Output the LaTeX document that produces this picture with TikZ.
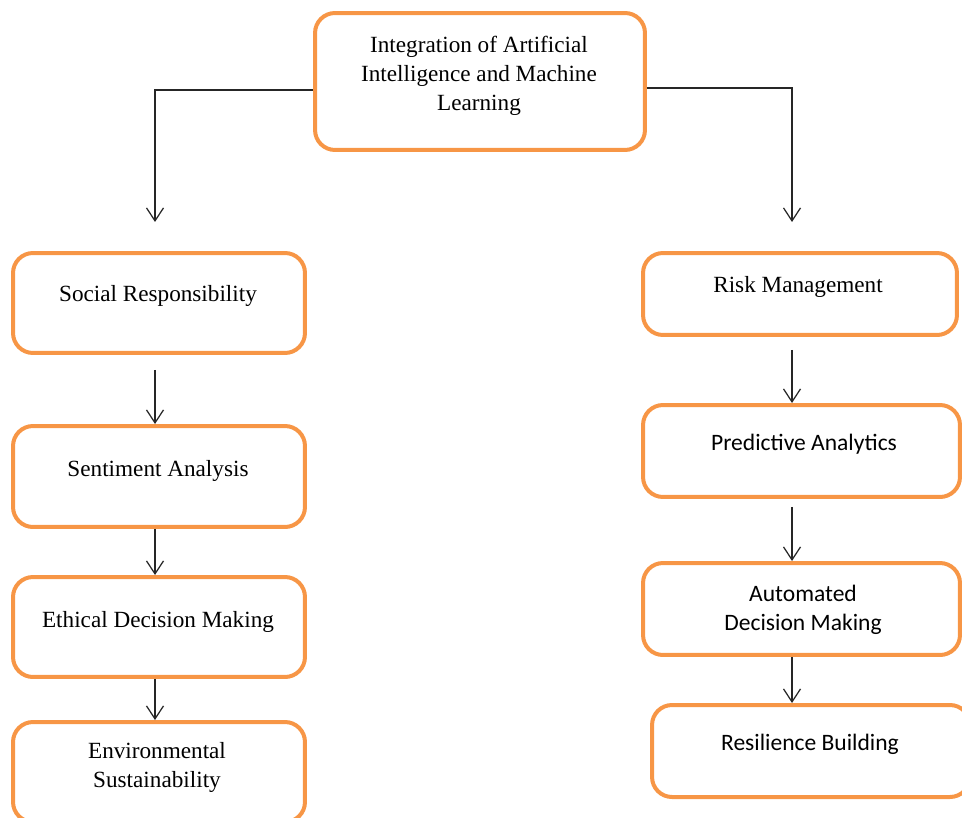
\documentclass[tikz,border=0pt]{standalone}
\usepackage{fontspec}
\setmainfont{Liberation Serif}
\newfontfamily\calibrifont{Carlito}
\usetikzlibrary{arrows.meta,calc}
\definecolor{boxorange}{HTML}{F79646}

\begin{document}
\begin{tikzpicture}[x=0.02cm,y=-0.02cm,
    box/.style={draw=boxorange,line width=0.8mm,rounded corners=4mm,inner sep=0pt},
    lbl/.style={align=center,font=\fontsize{13.2}{16.5}\selectfont},
    sanslbl/.style={align=center,font=\calibrifont\fontsize{13.4}{16.8}\selectfont},
    arr/.style={draw=black!85,line width=0.7pt,-{Straight Barb[length=2.6mm,width=3.4mm]}}]
    \clip (0,0) rectangle (962,817);

    % top
    \node[box,minimum width=6.6cm,minimum height=2.74cm] (ai) at (480,81.5) {};
    \node[lbl] (aitext) at (479,76) {Integration of Artificial\\Intelligence and Machine\\Learning};

    % left column
    \node[box,minimum width=5.84cm,minimum height=2cm] (sr) at (159,303) {};
    \node[lbl] (srtext) at (158,296) {Social Responsibility};
    \node[box,minimum width=5.84cm,minimum height=2.02cm] (sa) at (159,476.5) {};
    \node[lbl] (satext) at (158,471) {Sentiment Analysis};
    \node[box,minimum width=5.84cm,minimum height=2cm] (ed) at (159,627) {};
    \node[lbl] (edtext) at (158,622) {Ethical Decision Making};
    \node[box,minimum width=5.84cm,minimum height=2cm] (es) at (159,772) {};
    \node[lbl] (estext) at (157,767) {Environmental\\Sustainability};

    % right column
    \node[box,minimum width=6.28cm,minimum height=1.64cm] (rm) at (800,294) {};
    \node[lbl] (rmtext) at (798,287) {Risk Management};
    \node[box,minimum width=6.34cm,minimum height=1.84cm] (pa) at (801.5,451) {};
    \node[sanslbl] (patext) at (804,444) {Predictive Analytics};
    \node[box,minimum width=6.34cm,minimum height=1.84cm] (ad) at (801.5,609) {};
    \node[sanslbl] (adtext) at (803,610) {Automated\\Decision Making};
    \node[box,minimum width=6.36cm,minimum height=1.84cm] (rb) at (811,751) {};
    \node[sanslbl] (rbtext) at (810,744) {Resilience Building};

    \coordinate (lefttip) at (155,222);
    \coordinate (righttip) at (792,222);

    \draw[arr] ([yshift=-1.7mm]ai.west) -| (lefttip);
    \draw[arr] ([yshift=-1.3mm]ai.east) -| (righttip);

    \draw[arr,shorten <=3mm] (sr.south -| lefttip) -- (sa.north -| lefttip);
    \draw[arr] (sa.south -| lefttip) -- (ed.north -| lefttip);
    \draw[arr] (ed.south -| lefttip) -- (es.north -| lefttip);

    \draw[arr,shorten <=2.6mm] (rm.south -| righttip) -- (pa.north -| righttip);
    \draw[arr,shorten <=1.6mm] (pa.south -| righttip) -- (ad.north -| righttip);
    \draw[arr] (ad.south -| righttip) -- (rb.north -| righttip);
\end{tikzpicture}
\end{document}
